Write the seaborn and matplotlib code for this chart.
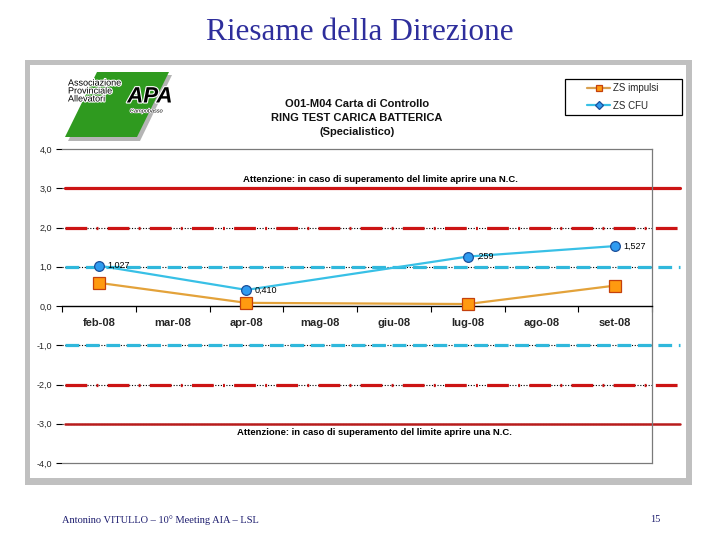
import numpy as np
import pandas as pd
import matplotlib
matplotlib.use("Agg")
import matplotlib.pyplot as plt
import matplotlib.patches as mpatches
import matplotlib.patheffects as pe
import matplotlib.transforms as mtransforms
from matplotlib.lines import Line2D
from matplotlib.ticker import FuncFormatter, FixedLocator, NullFormatter
import seaborn as sns

# ==========================================
# DATA
# ==========================================

months = ["feb-08", "mar-08", "apr-08", "mag-08", "giu-08", "lug-08", "ago-08", "set-08"]
zs_impulsi = [0.59, np.nan, 0.08, np.nan, np.nan, 0.05, np.nan, 0.52]
zs_cfu = [1.027, np.nan, 0.410, np.nan, np.nan, 1.259, np.nan, 1.527]
cfu_labels = ["1,027", "", "0,410", "", "", ",259", "", "1,527"]

limit_values = [3, 2, 1, -1, -2, -3]
grid_values = [3, 2, 1, -1, -2, -3]
y_ticks = [-4, -3, -2, -1, 0, 1, 2, 3, 4]

chart_title = "O01-M04 Carta di Controllo\nRING TEST CARICA BATTERICA\n(Specialistico)"
warning_text = "Attenzione: in caso di superamento del limite aprire una N.C."

# ==========================================
# TABLE
# ==========================================

df = pd.DataFrame({
    "pos": np.arange(len(months)),
    "ZS impulsi": zs_impulsi,
    "ZS CFU": zs_cfu,
})

# ==========================================
# FIGURE
# ==========================================

sns.set_style("white")
plt.rcParams["font.family"] = ["Liberation Sans Narrow", "Liberation Sans", "DejaVu Sans"]

fig = plt.figure(figsize=(7.2, 5.4), dpi=100)
W, H = 720.0, 540.0


def fx(x):
    return x / W


def fy(y):
    return 1 - y / H


# grey slide frame + white panel
fig.add_artist(mpatches.Rectangle((fx(25), fy(485)), (692 - 25) / W, (485 - 60) / H,
                                  transform=fig.transFigure, facecolor="#c0c0c0",
                                  edgecolor="none", zorder=0))
fig.add_artist(mpatches.Rectangle((fx(30), fy(478)), (686 - 30) / W, (478 - 65) / H,
                                  transform=fig.transFigure, facecolor="white",
                                  edgecolor="none", zorder=0))

# logo
shadow = mpatches.Polygon([(fx(100), fy(75)), (fx(172), fy(75)), (fx(140), fy(141)), (fx(68), fy(141))],
                          closed=True, transform=fig.transFigure, facecolor="#b5b5b5",
                          edgecolor="none", zorder=1)
fig.add_artist(shadow)
logo = mpatches.Polygon([(fx(97), fy(72)), (fx(169), fy(72)), (fx(137), fy(137)), (fx(65), fy(137))],
                        closed=True, transform=fig.transFigure, facecolor="#2f9a1f",
                        edgecolor="none", zorder=1)
fig.add_artist(logo)
outline = [pe.withStroke(linewidth=1.6, foreground="white")]
fig.text(fx(68), fy(91), "Associazione\nProvinciale\nAllevatori", fontsize=6.5,
         color="black", va="center", ha="left", linespacing=0.85, zorder=2,
         family=["Liberation Sans", "DejaVu Sans"], path_effects=outline)
fig.text(fx(150), fy(97), "APA", fontsize=16, style="italic", weight="bold",
         color="black", va="center", ha="center", zorder=2,
         family=["Liberation Sans", "DejaVu Sans"], path_effects=outline)
fig.text(fx(146), fy(111), "Campobasso", fontsize=4, style="italic",
         color="black", va="center", ha="center", zorder=2,
         family=["Liberation Sans", "DejaVu Sans"],
         path_effects=[pe.withStroke(linewidth=1, foreground="white")])

# slide title and footer
fig.text(0.5, fy(33), "Riesame della Direzione", ha="center", va="center",
         fontsize=22.5, color="#2e2e9c", family=["Liberation Serif", "DejaVu Serif"])
fig.text(fx(62), fy(520), "Antonino VITULLO – 10° Meeting AIA – LSL", ha="left", va="center",
         fontsize=7.5, color="#1c1c6e", family=["Liberation Serif", "DejaVu Serif"])
fig.text(fx(655), fy(520), "15", ha="center", va="center",
         fontsize=7.5, color="#1c1c6e", family=["Liberation Serif", "DejaVu Serif"])

# chart title
fig.text(fx(357), fy(118), chart_title, ha="center", va="center", fontsize=8,
         weight="bold", linespacing=1.45, color="#111111")

# ==========================================
# AXES
# ==========================================

ax = fig.add_axes([fx(62), fy(463), (652 - 62) / W, (463 - 149) / H])
ax.set_facecolor("white")
ax.set_zorder(3)

# dotted grid
for g in grid_values:
    ax.axhline(g, color="black", lw=0.8, ls=(0, (1, 1.5)), zorder=1)
ax.axhline(-4, color="#7a7a7a", lw=0.9, zorder=1, clip_on=False)

# control limits
limit_style = {
    3: dict(color="#cc1414", ls="-", lw=2.3),
    2: dict(color="#cc1414", ls=(0, (6.8, 2.9, 0.6, 2.9)), lw=2.3),
    1: dict(color="#30b8dc", ls=(0, (4.3, 2.1)), lw=2.3),
    -1: dict(color="#30b8dc", ls=(0, (4.3, 2.1)), lw=2.3),
    -2: dict(color="#cc1414", ls=(0, (6.8, 2.9, 0.6, 2.9)), lw=2.3),
    -3: dict(color="#b81c1c", ls="-", lw=1.8),
}
for v in limit_values:
    ax.axhline(v, xmin=0.005, xmax=1.047, clip_on=False, zorder=2, **limit_style[v])

# series
imp = df[["pos", "ZS impulsi"]].dropna()
cfu = df[["pos", "ZS CFU"]].dropna()

imp_style = dict(color="#e3a23a", marker="s", markerfacecolor="#ff9a10",
                 markeredgecolor="#c4400c", markeredgewidth=0.9)
cfu_style = dict(color="#38c0e6", marker="o", markerfacecolor="#2f9bf0",
                 markeredgecolor="#1b4f9a", markeredgewidth=0.9)

sns.lineplot(data=imp, x="pos", y="ZS impulsi", ax=ax, lw=1.6, markersize=8,
             zorder=4, clip_on=False, legend=False, **imp_style)
sns.lineplot(data=cfu, x="pos", y="ZS CFU", ax=ax, lw=1.6, markersize=7,
             zorder=4, clip_on=False, legend=False, **cfu_style)

for x, y, lab in zip(df["pos"], df["ZS CFU"], cfu_labels):
    if lab:
        ax.annotate(lab, (x, y), xytext=(6, 0), textcoords="offset points",
                    ha="left", va="center", fontsize=6.5, color="black", zorder=5)

# warning notes
trans = mtransforms.blended_transform_factory(ax.transAxes, ax.transData)
ax.text(0.54, 3.12, warning_text, transform=trans, ha="center", va="bottom",
        fontsize=6.8, weight="bold", color="black", zorder=5)
ax.text(0.53, -3.12, warning_text, transform=trans, ha="center", va="top",
        fontsize=6.8, weight="bold", color="black", zorder=5)

# limits, spines
ax.set_xlim(-0.5, len(months) - 0.5)
ax.set_ylim(-4, 4)
ax.set_xlabel("")
ax.set_ylabel("")

ax.spines["left"].set_visible(False)
ax.spines["top"].set_color("#7a7a7a")
ax.spines["right"].set_color("#7a7a7a")
ax.spines["top"].set_linewidth(0.9)
ax.spines["right"].set_linewidth(0.9)
ax.spines["bottom"].set_position(("data", 0))
ax.spines["bottom"].set_color("black")
ax.spines["bottom"].set_linewidth(1.0)
ax.spines["bottom"].set_zorder(3)

# x ticks: marks between categories, labels at centers
ax.xaxis.set_major_locator(FixedLocator(np.arange(-0.5, len(months), 1.0)))
ax.xaxis.set_major_formatter(NullFormatter())
ax.xaxis.set_minor_locator(FixedLocator(np.arange(len(months))))
ax.set_xticklabels(months, minor=True, fontsize=8, weight="bold")
ax.tick_params(axis="x", which="major", direction="out", length=4, width=0.8,
               color="black", bottom=True)
ax.tick_params(axis="x", which="minor", length=0, pad=9, bottom=True)

# y ticks
ax.set_yticks(y_ticks)
ax.yaxis.set_major_formatter(FuncFormatter(lambda v, p: f"{v:.1f}".replace(".", ",")))
ax.tick_params(axis="y", direction="out", length=4, width=0.8, color="black",
               labelsize=6.5, pad=3, left=True)

# legend (Excel-like box)
fig.add_artist(mpatches.Rectangle((fx(565), fy(115)), (682 - 565) / W, (115 - 79) / H,
                                  transform=fig.transFigure, facecolor="white",
                                  edgecolor="black", lw=0.9, zorder=2))
leg_imp = dict(imp_style, color="#d9a050", markersize=5)
leg_cfu = dict(cfu_style, marker="D", markersize=4)
handles = [
    Line2D([], [], lw=1.6, **leg_imp),
    Line2D([], [], lw=1.6, **leg_cfu),
]
leg = fig.legend(handles, ["ZS impulsi", "ZS CFU"], loc="upper left",
                 bbox_to_anchor=(fx(583), fy(79)), bbox_transform=fig.transFigure,
                 borderaxespad=0, frameon=False, fontsize=7, handlelength=2.3,
                 labelspacing=0.75, borderpad=0.45, handletextpad=0.3, numpoints=1)
leg.set_zorder(4)

fig.savefig("out.png", dpi=100)
